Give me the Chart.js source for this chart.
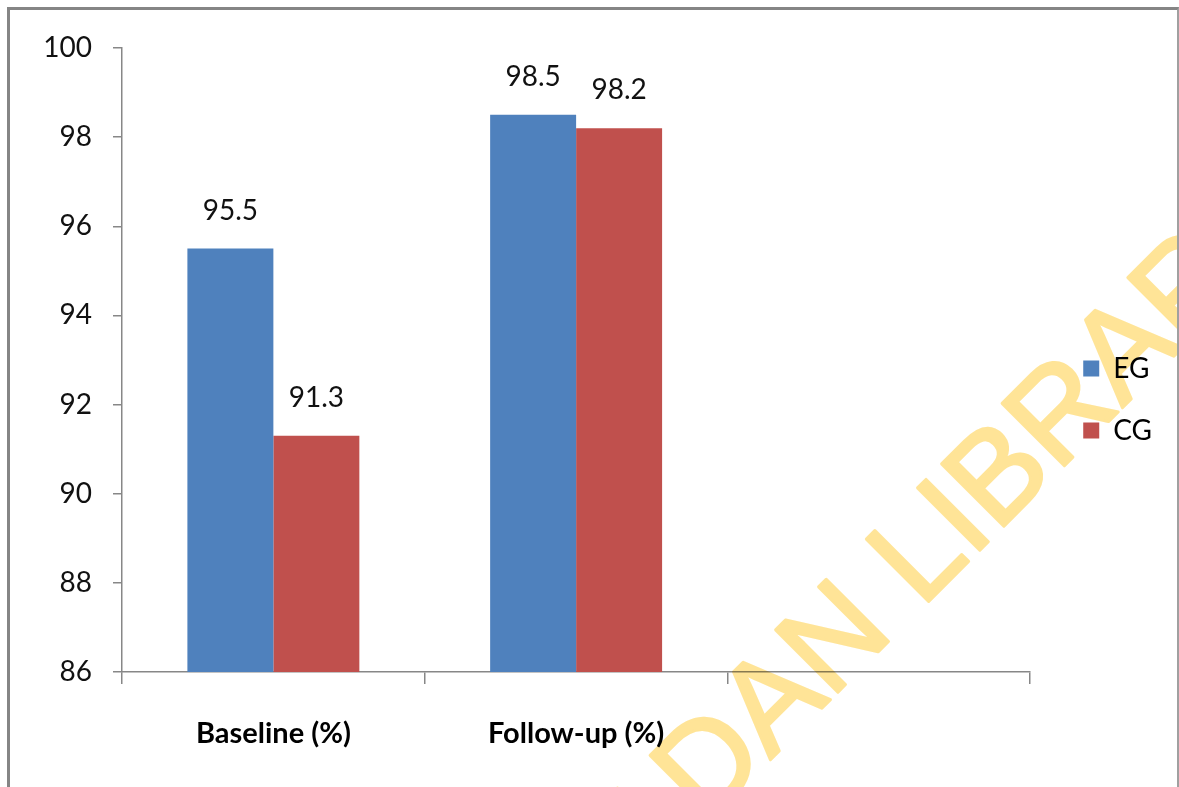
<!DOCTYPE html>
<html>
<head>
<meta charset="utf-8">
<script src="https://cdn.jsdelivr.net/npm/chart.js@4.4.1/dist/chart.umd.min.js"></script>
<style>
  html, body { margin: 0; padding: 0; background: #fff; }
  #wrap { position: relative; width: 1179px; height: 787px; overflow: hidden; }
  #frame {
    position: absolute; left: 7px; top: 7px; width: 1172px; height: 820px;
    box-sizing: border-box;
    border-top: 3px solid #858585; border-left: 3px solid #858585; border-right: 2px solid #a0a0a0;
    pointer-events: none;
  }
  #chart { position: absolute; left: 0; top: 0; }
</style>
</head>
<body>
<div id="wrap">
  <canvas id="chart" width="1179" height="787"></canvas>
  <div id="frame"></div>
</div>
<script>
const categories = ["Baseline (%)", "Follow-up (%)", ""];
const egValues = [95.5, 98.5, null];
const cgValues = [91.3, 98.2, null];
const yTicks = [86, 88, 90, 92, 94, 96, 98, 100];

const chartCanvas = document.querySelector("#chart");
const fontFamily = "Lato, 'Open Sans', sans-serif";

Chart.defaults.font.family = fontFamily;
Chart.defaults.color = "#000";

// value labels above each bar
const valueLabels = {
  id: "valueLabels",
  afterDatasetsDraw(chart) {
    const ctx = chart.ctx;
    ctx.save();
    ctx.font = "28px " + fontFamily;
    ctx.fillStyle = "#111";
    ctx.textAlign = "center";
    ctx.textBaseline = "middle";
    chart.data.datasets.forEach((ds, i) => {
      chart.getDatasetMeta(i).data.forEach((bar, j) => {
        const v = ds.data[j];
        if (v === null || v === undefined) return;
        ctx.fillText(v.toFixed(1), bar.x, bar.y - 38);
      });
    });
    ctx.restore();
  },
};

// library watermark across the right side (drawn off screen, then multiplied in)
const watermark = {
  id: "watermark",
  afterDraw(chart) {
    const off = document.createElement("canvas");
    off.width = chart.width;
    off.height = chart.height;
    const o = off.getContext("2d");
    o.translate(559, 971);
    o.rotate(-Math.PI / 4);
    o.font = "128px 'Liberation Sans', Arial, sans-serif";
    o.fillStyle = "#FFE497";
    o.strokeStyle = "#FFE497";
    o.lineWidth = 3;
    o.lineJoin = "round";
    o.fillText("IBADAN LIBRARY", 0, 0);
    o.strokeText("IBADAN LIBRARY", 0, 0);

    const ctx = chart.ctx;
    ctx.save();
    ctx.globalCompositeOperation = "multiply";
    ctx.drawImage(off, 0, 0);
    ctx.restore();
  },
};

new Chart(chartCanvas, {
  type: "bar",
  data: {
    labels: categories,
    datasets: [
      {
        label: "EG",
        data: egValues,
        backgroundColor: "#4F81BD",
        borderWidth: 0,
        categoryPercentage: 0.568,
        barPercentage: 1,
      },
      {
        label: "CG",
        data: cgValues,
        backgroundColor: "#C0504D",
        borderWidth: 0,
        categoryPercentage: 0.568,
        barPercentage: 1,
      },
    ],
  },
  options: {
    responsive: false,
    animation: false,
    devicePixelRatio: 1,
    layout: { padding: { top: 48, left: 0, right: 17, bottom: 36 } },
    plugins: {
      tooltip: { enabled: false },
      legend: {
        position: "right",
        align: "center",
        labels: {
          boxWidth: 16,
          boxHeight: 16,
          padding: 34,
          color: "#000",
          font: { size: 28 },
        },
      },
    },
    scales: {
      x: {
        grid: {
          offset: true,
          drawOnChartArea: false,
          tickLength: 12,
          color: "#878787",
          lineWidth: 1.5,
        },
        border: { color: "#878787", width: 1.5 },
        ticks: {
          padding: 32,
          color: "#000",
          font: { size: 29, weight: "bold" },
        },
        afterFit: (s) => { s.height = 79; },
      },
      y: {
        min: yTicks[0],
        max: yTicks[yTicks.length - 1],
        afterBuildTicks: (s) => { s.ticks = yTicks.map((v) => ({ value: v })); },
        grid: {
          drawOnChartArea: false,
          tickLength: 9,
          color: "#878787",
          lineWidth: 1.5,
        },
        border: { color: "#878787", width: 1.5 },
        ticks: {
          padding: 21,
          color: "#111",
          font: { size: 28 },
        },
        afterFit: (s) => { s.width = 122; },
      },
      y2: {
        position: "right",
        display: true,
        grid: { display: false },
        border: { display: false },
        ticks: { display: false },
        afterFit: (s) => { s.width = 19; },
      },
    },
  },
  plugins: [valueLabels, watermark],
});
</script>
</body>
</html>
